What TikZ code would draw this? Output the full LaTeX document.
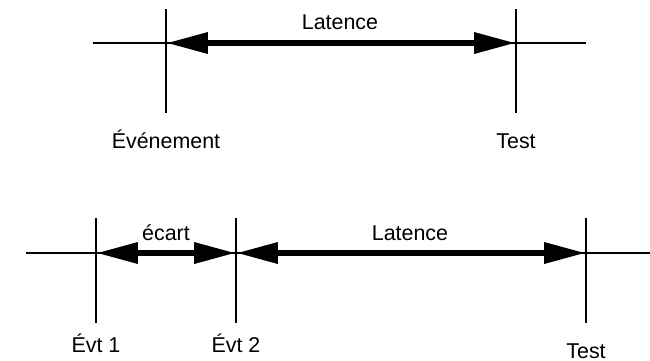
\documentclass[tikz,border=0pt]{standalone}
\usepackage{fontspec}
\setmainfont{Liberation Sans}
\usetikzlibrary{arrows.meta,positioning}
\tikzset{fine/.style={line width=0.6pt},
         span/.style={line width=3.7pt,{Triangle[length=8.4mm,width=4mm]}-{Triangle[length=8.4mm,width=4mm]}},
         lbl/.style={anchor=base,inner sep=0pt,font=\fontsize{12.2}{14}\selectfont}}

\begin{document}
\begin{tikzpicture}[x=0.02cm,y=-0.02cm]
    \useasboundingbox (0,0) rectangle (650,360);
    % upper time line
    \coordinate (ua) at (93,43);
    \coordinate (ub) at (586,43);
    \coordinate (ev) at (166,43);
    \coordinate (ts) at (516,43);
    \draw[fine] (ua) -- (ub);
    \draw[fine] (ev) ++(0,-34) -- ++(0,104);
    \draw[fine] (ts) ++(0,-34) -- ++(0,104);
    \draw[span] (ev) -- (ts);
    \node (lat1) [lbl] at (340,29)  {Latence};
    \node (nev)  [lbl] at (166,148) {Événement};
    \node (nts)  [lbl] at (516,148) {Test};
    % lower time line
    \coordinate (la) at (26,253);
    \coordinate (lb) at (650,253);
    \coordinate (e1) at (96,253);
    \coordinate (e2) at (236,253);
    \coordinate (t2) at (586,253);
    \draw[fine] (la) -- (lb);
    \draw[fine] (e1) ++(0,-35) -- ++(0,105);
    \draw[fine] (e2) ++(0,-35) -- ++(0,105);
    \draw[fine] (t2) ++(0,-35) -- ++(0,105);
    \draw[span] (e1) -- (e2);
    \draw[span] (e2) -- (t2);
    \node (ec)   [lbl] at (166,240) {écart};
    \node (lat2) [lbl] at (410,240) {Latence};
    \node (ne1)  [lbl] at (96,352)  {Évt 1};
    \node (ne2)  [lbl] at (236,352) {Évt 2};
    \node (nt2)  [lbl] at (586,358) {Test};
\end{tikzpicture}
\end{document}
